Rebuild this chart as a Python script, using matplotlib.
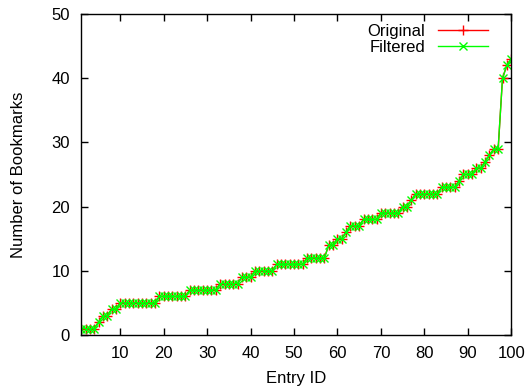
import numpy as np
import matplotlib
matplotlib.use("Agg")
import matplotlib.pyplot as plt

plt.rcParams['font.family'] = ['Liberation Sans', 'DejaVu Sans']

# sorted bookmark counts per entry
entry_id = list(range(1, 101))
original = ([1] * 4 + [2] + [3] * 2 + [4] * 2 + [5] * 9 + [6] * 7 + [7] * 7 +
            [8] * 5 + [9] * 3 + [10] * 5 + [11] * 7 + [12] * 5 + [14] * 2 +
            [15] * 2 + [16] + [17] * 3 + [18] * 4 + [19] * 5 + [20] * 2 +
            [21] + [22] * 6 + [23] * 4 + [24] + [25] * 3 + [26] * 2 + [27] +
            [28] + [29] * 2 + [40, 42, 43])
filtered = list(original)

fig = plt.figure(figsize=(5.27, 3.89), dpi=100)
ax = fig.add_axes([0.154, 0.139, 0.816, 0.825])

ax.plot(entry_id, original, color='#ff0000', lw=1, marker='+', ms=7,
        mew=1, label='Original')
ax.plot(entry_id, filtered, color='#00ff00', lw=1, marker='x', ms=5.5,
        mew=1, label='Filtered')

ax.set_xlim(1, 100)
ax.set_ylim(0, 50)
ax.set_xticks(range(10, 101, 10))
ax.set_yticks(range(0, 51, 10))
ax.tick_params(direction='in', top=True, right=True, length=5, width=1,
               labelsize=12, pad=8)
for s in ax.spines.values():
    s.set_linewidth(1)

ax.set_xlabel("Entry ID", fontsize=12, labelpad=7)
ax.set_ylabel("Number of Bookmarks", fontsize=12, labelpad=18)
ax.legend(loc='upper right', frameon=False, markerfirst=False, fontsize=12,
          handlelength=3.0, handletextpad=0.8, labelspacing=0.05,
          borderaxespad=0.2, bbox_to_anchor=(0.97, 1.0))

fig.savefig("out.png", dpi=100)
